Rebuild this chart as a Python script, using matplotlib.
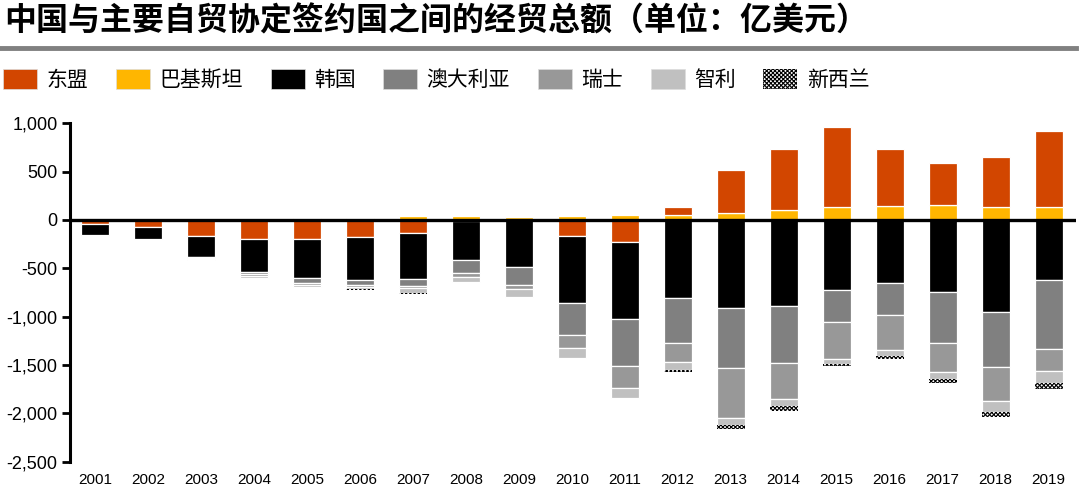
import numpy as np
import matplotlib
matplotlib.use("Agg")
import matplotlib.pyplot as plt
from matplotlib.patches import Patch
from matplotlib.lines import Line2D
from matplotlib.ticker import FuncFormatter

plt.rcParams['font.family'] = ['Liberation Sans', 'Noto Sans CJK SC', 'DejaVu Sans']
plt.rcParams['hatch.linewidth'] = 0.8

years = [str(y) for y in range(2001, 2020)]

# 亿美元
asean    = [-45, -75, -162, -200, -200, -180, -138, -10, 0, -162, -231, 79, 442, 631, 827, 593, 431, 513, 779]
pakistan = [3, 5, 5, 8, 18, 25, 41, 41, 30, 41, 48, 55, 72, 100, 131, 145, 155, 138, 138]
korea    = [-110, -125, -222, -338, -405, -445, -472, -400, -489, -693, -796, -810, -910, -893, -727, -648, -748, -951, -620]
australia= [0, 0, -10, -22, -50, -50, -70, -142, -183, -334, -483, -459, -620, -582, -331, -334, -527, -573, -717]
swiss    = [0, 0, -5, -15, -15, -15, -25, -40, -45, -140, -231, -199, -521, -373, -379, -366, -300, -348, -228]
chile    = [0, 0, -15, -20, -20, -25, -55, -48, -83, -96, -96, -87, -72, -79, -52, -62, -73, -110, -117]
nz       = [0, 0, -3, -8, -8, -8, -5, 0, 0, 0, -5, -17, -38, -45, -18, -24, -41, -52, -66]

names  = ['东盟', '巴基斯坦', '韩国', '澳大利亚', '瑞士', '智利', '新西兰']
colors = ['#D24600', '#FFB600', '#000000', '#808080', '#989898', '#C0C0C0', '#FFFFFF']

title = '中国与主要自贸协定签约国之间的经贸总额（单位：亿美元）'

fig = plt.figure(figsize=(10.8, 4.91), dpi=100)
ax = fig.add_axes([0.0648, 0.0597, 0.9312, 0.6892])

x = np.arange(len(years))
width = 0.53
stack_order = [(pakistan, 1), (asean, 0), (korea, 2), (australia, 3), (swiss, 4), (chile, 5), (nz, 6)]
pos = np.zeros(len(years))
neg = np.zeros(len(years))
for vals, ci in stack_order:
    v = np.array(vals, dtype=float)
    bottom = np.where(v >= 0, pos, neg)
    if ci == 6:
        ax.bar(x, v, bottom=bottom, width=width, color='white', edgecolor='black',
               hatch='xxxxxxxx', linewidth=0, zorder=2)
    else:
        ax.bar(x, v, bottom=bottom, width=width, color=colors[ci], edgecolor='white',
               linewidth=0.9, zorder=2)
    pos = np.where(v >= 0, pos + v, pos)
    neg = np.where(v < 0, neg + v, neg)

ax.axhline(0, color='black', lw=2.4, zorder=3)
ax.set_xlim(-0.47, 18.51)
ax.set_ylim(-2500, 1000)
ax.set_yticks(np.arange(-2500, 1001, 500))
ax.yaxis.set_major_formatter(FuncFormatter(lambda v, p: f'{int(v):,}'))
ax.set_xticks(x)
ax.set_xticklabels(years, fontsize=11)
ax.tick_params(axis='x', length=0, pad=8)
ax.tick_params(axis='y', length=6, width=2, labelsize=13, pad=3, direction='out')
for s in ['top', 'right', 'bottom']:
    ax.spines[s].set_visible(False)
ax.spines['left'].set_linewidth(2.2)

# title and rule
fig.text(0.004, 1 - 21 / 491, title, fontsize=23, va='center', ha='left',
         family=['Noto Sans CJK SC', 'DejaVu Sans'], fontweight='bold')
fig.add_artist(Line2D([0, 0.996], [1 - 48 / 491, 1 - 48 / 491], transform=fig.transFigure,
                      color='#808080', lw=3.5))

# legend
handles = []
for i, n in enumerate(names):
    if i == 6:
        handles.append(Patch(facecolor='white', edgecolor='black', hatch='xxxxxxxx', linewidth=0))
    else:
        handles.append(Patch(facecolor=colors[i], edgecolor='#dddddd', linewidth=0.5))
fig.legend(handles, names, loc='center left', bbox_to_anchor=(0.003, 1 - 80 / 491), ncol=7,
           frameon=False, prop={'family': ['Noto Sans CJK SC', 'DejaVu Sans'], 'size': 15},
           handlelength=1.63, handleheight=1.15, handletextpad=0.45, columnspacing=1.33,
           borderpad=0, borderaxespad=0)

fig.savefig('out.png', dpi=100)
